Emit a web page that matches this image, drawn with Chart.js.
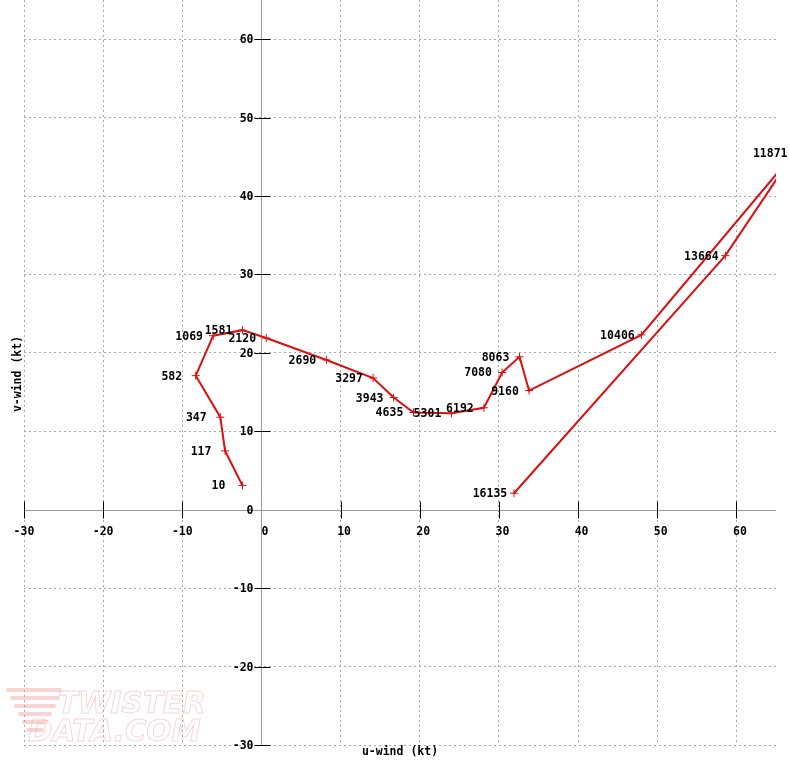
<!DOCTYPE html>
<html>
<head>
<meta charset="utf-8">
<script src="https://cdn.jsdelivr.net/npm/chart.js@4/dist/chart.umd.min.js"></script>
<style>
  html, body { margin: 0; padding: 0; background: #fff; }
  #wrap { width: 789px; height: 771px; }
</style>
</head>
<body>
<div id="wrap"><canvas id="hodograph" width="789" height="771"></canvas></div>
<script>
// heights (m) of each hodograph point
const heights = ['10', '117', '347', '582', '1069', '1581', '2120', '2690', '3297', '3943',
                 '4635', '5301', '6192', '7080', '8063', '9160', '10406', '11871', '13664', '16135'];
// u and v wind components (kt)
const uWind = [-2.4, -4.6, -5.2, -8.3, -6.1, -2.4, 0.6, 8.2, 14.1, 16.7,
               19.2, 24.0, 28.1, 30.4, 32.6, 33.8, 48.0, 67.3, 58.6, 31.9];
const vWind = [3.1, 7.5, 11.8, 17.1, 22.2, 22.9, 21.9, 19.1, 16.8, 14.3,
               12.4, 12.3, 13.0, 17.5, 19.5, 15.2, 22.3, 45.5, 32.4, 2.1];
const xTickVals = [-30, -20, -10, 0, 10, 20, 30, 40, 50, 60];
const yTickVals = [-30, -20, -10, 0, 10, 20, 30, 40, 50, 60];

const RED = '#dc1010';
const FONT = 'bold 11.5px "DejaVu Sans Mono", "Liberation Mono", monospace';
const GRID = '#a8a8a8';

// faint logo in the lower left corner
const watermark = {
    id: 'watermark',
    beforeDraw(chart) {
        const c = chart.ctx;
        c.save();
        c.strokeStyle = 'rgba(235,150,150,0.4)';
        // tornado stripes
        const stripes = [[8, 690, 52], [12, 698, 46], [16, 706, 38], [20, 714, 30], [24, 722, 22], [28, 730, 14]];
        c.lineCap = 'round';
        c.lineWidth = 4;
        stripes.forEach(([x, y, w]) => {
            c.beginPath(); c.moveTo(x, y); c.lineTo(x + w, y); c.stroke();
        });
        c.lineWidth = 1;
        c.font = 'italic bold 31px "DejaVu Sans", sans-serif';
        c.textBaseline = 'alphabetic';
        c.setTransform(0.95, 0, 0, 1, 0, 0);
        c.strokeText('TWISTER', 58 / 0.95, 713);
        c.strokeText('DATA.COM', 28 / 0.95, 741);
        c.restore();
    }
};

// axes through the origin, ticks and tick labels
const crossAxes = {
    id: 'crossAxes',
    beforeDatasetsDraw(chart) {
        const c = chart.ctx;
        const xs = chart.scales.x, ys = chart.scales.y;
        const ax = Math.round(xs.getPixelForValue(0)) + 0.5;
        const ay = Math.round(ys.getPixelForValue(0)) + 0.5;
        const area = chart.chartArea;
        c.save();
        c.strokeStyle = '#999';
        c.lineWidth = 1;
        c.beginPath();
        c.moveTo(ax, area.top); c.lineTo(ax, area.bottom);
        c.moveTo(area.left, ay); c.lineTo(area.right, ay);
        c.stroke();

        c.strokeStyle = '#000';
        c.beginPath();
        xTickVals.forEach(v => {
            if (v === 0) return;
            const px = Math.round(xs.getPixelForValue(v)) + 0.5;
            c.moveTo(px, ay - 9); c.lineTo(px, ay + 8);
        });
        yTickVals.forEach(v => {
            if (v === 0) return;
            const py = Math.round(ys.getPixelForValue(v)) + 0.5;
            c.moveTo(ax - 7, py); c.lineTo(ax + 9, py);
        });
        c.stroke();

        c.fillStyle = '#000';
        c.font = FONT;
        c.textBaseline = 'middle';
        c.textAlign = 'center';
        xTickVals.forEach(v => {
            const label = v < 0 ? String(v) : ' ' + v;
            c.fillText(label, xs.getPixelForValue(v), ay + 22);
        });
        c.textAlign = 'right';
        yTickVals.forEach(v => {
            c.fillText(String(v), ax - 8, ys.getPixelForValue(v) + 1);
        });

        c.textAlign = 'center';
        c.fillText('u-wind (kt)', 400, 752);
        c.translate(18, 374);
        c.rotate(-Math.PI / 2);
        c.fillText('v-wind (kt)', 0, 0);
        c.restore();
    },
    afterDatasetsDraw(chart) {
        const c = chart.ctx;
        const xs = chart.scales.x, ys = chart.scales.y;
        c.save();
        c.fillStyle = '#000';
        c.font = FONT;
        c.textAlign = 'center';
        c.textBaseline = 'middle';
        heights.forEach((h, i) => {
            const px = xs.getPixelForValue(uWind[i]);
            const py = ys.getPixelForValue(vWind[i]);
            c.fillText(h, px - 24, py + 1);
        });
        c.restore();
    }
};

const points = uWind.map((u, i) => ({ x: u, y: vWind[i] }));

const ctx = document.getElementById('hodograph').getContext('2d');
const hodoChart = new Chart(ctx, {
    type: 'scatter',
    data: {
        datasets: [{
            data: points,
            showLine: true,
            borderColor: RED,
            borderWidth: 2,
            pointStyle: 'cross',
            pointRadius: 4,
            pointBorderWidth: 1,
            pointBorderColor: RED,
            pointBackgroundColor: RED,
            tension: 0
        }]
    },
    options: {
        responsive: false,
        animation: false,
        devicePixelRatio: 1,
        layout: { autoPadding: false, padding: { left: 24, right: 13, top: 0, bottom: 26 } },
        plugins: { legend: { display: false }, tooltip: { enabled: false } },
        scales: {
            x: {
                type: 'linear', min: -30, max: 65,
                ticks: { display: false, stepSize: 10 },
                grid: {
                    drawTicks: false,
                    color: c => (c.tick && (c.tick.value === 65 || c.tick.value === 0)) ? 'rgba(0,0,0,0)' : GRID
                },
                border: { display: false, dash: [2, 3] }
            },
            y: {
                type: 'linear', min: -30, max: 65,
                ticks: { display: false, stepSize: 10 },
                grid: {
                    drawTicks: false,
                    color: c => (c.tick && (c.tick.value === 65 || c.tick.value === 0)) ? 'rgba(0,0,0,0)' : GRID
                },
                border: { display: false, dash: [2, 3] }
            }
        }
    },
    plugins: [watermark, crossAxes]
});
</script>
</body>
</html>
